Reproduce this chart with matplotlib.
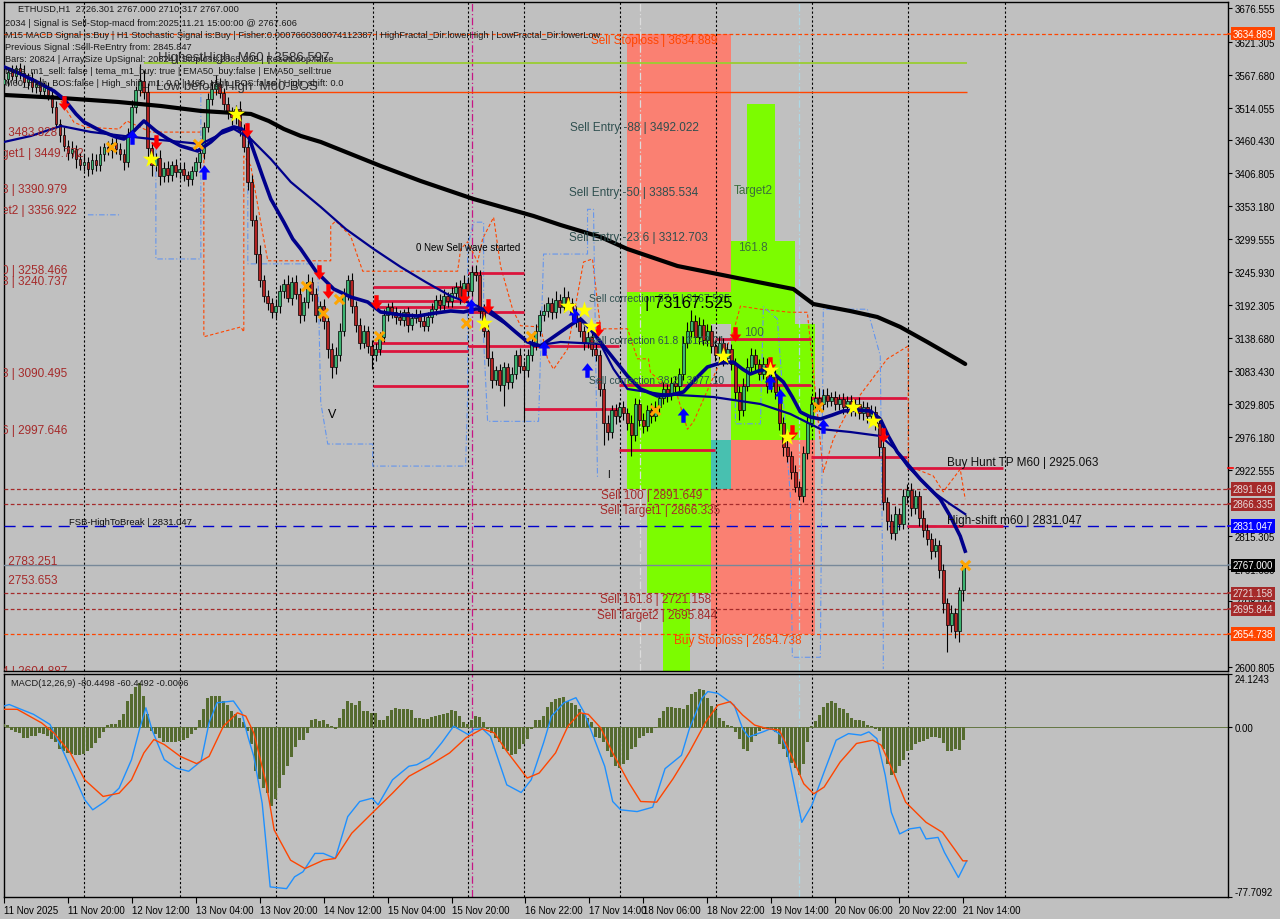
import matplotlib
matplotlib.use('Agg')
import matplotlib.pyplot as plt
import matplotlib.transforms as mtransforms
from matplotlib.patches import Rectangle
import numpy as np

plt.rcParams['font.family'] = ['Liberation Sans', 'DejaVu Sans']

BG = '#c0c0c0'
W, H = 1280, 920

# ---------------- data ----------------
# ETHUSD H1 closes, one per bar (bar 0 = 11 Nov 2025)
closes = [3560, 3572, 3566, 3578, 3570, 3556, 3562, 3548, 3552, 3541, 3547, 3535,
          3515, 3488, 3470, 3452,
          3440, 3446, 3430, 3421, 3426, 3414, 3429, 3420, 3438, 3450, 3444, 3456, 3447, 3438, 3426,
          3470, 3515, 3542, 3558, 3540,
          3448, 3420, 3432, 3402, 3416, 3404, 3420, 3409, 3414, 3404, 3398, 3410, 3425, 3440,
          3482, 3528, 3545, 3553, 3538, 3520, 3505, 3498, 3512, 3478,
          3450, 3392, 3330, 3275, 3232, 3206, 3195, 3180,
          3190, 3214, 3226, 3204, 3230, 3210, 3176, 3196, 3230, 3210, 3176,
          3190, 3165, 3120, 3090, 3110, 3150,
          3210, 3232, 3190, 3160, 3130, 3150, 3125,
          3110, 3120, 3140,
          3175, 3188, 3180, 3172, 3168, 3180, 3160, 3170, 3176, 3166, 3158, 3172,
          3185, 3200, 3192, 3206, 3198,
          3212, 3222, 3205, 3228, 3215,
          3245, 3240, 3182,
          3150, 3105, 3070, 3085, 3062, 3090, 3066,
          3080, 3110, 3092, 3085, 3110, 3130, 3150,
          3175, 3182, 3195, 3180, 3200, 3188, 3205, 3195,
          3178, 3165, 3150, 3130, 3140, 3120, 3110,
          3055,
          3000, 2985, 3020, 3010, 3025, 3015,
          3000, 2980, 3030, 3005, 2995, 3020, 3010, 3025,
          3040, 3055, 3045, 3065, 3060, 3080, 3130,
          3150, 3165, 3140, 3160, 3135, 3150,
          3125, 3110, 3130, 3105, 3120,
          3095, 3050, 3020, 3060,
          3090, 3110, 3095,
          3080, 3095, 3060, 3075, 3050,
          3000, 2960, 2945,
          2920, 2895, 2880,
          2950, 3000, 3030,
          3040, 3030, 3045, 3035, 3042, 3030, 3038, 3025, 3035, 3020,
          3030, 3015, 3025, 3010, 3018, 3000,
          2960, 2870, 2840, 2820,
          2850, 2835, 2880, 2890,
          2860, 2880, 2845, 2825,
          2810, 2790, 2800, 2760,
          2705, 2670, 2690, 2660, 2726.301,
          2767.0]
first_open = 3552

wick_up = [10, 8, 12, 6, 9, 14, 8, 10, 7, 12, 9, 8,
           6, 10, 8, 12,
           9, 14, 7, 10, 12, 8, 11, 9, 13, 7, 10, 8, 12, 9, 8,
           10, 12, 8, 27, 18,
           14, 10, 8, 12, 9, 11, 7, 10, 8, 12, 6, 9, 8, 10,
           8, 10, 12, 14, 9, 8, 11, 10, 7, 12,
           10, 15, 12, 9, 14, 8, 11, 9,
           12, 10, 9, 14, 8, 11, 10, 9, 12, 8, 10,
           9, 12, 8, 10, 14, 12,
           10, 8, 12, 9, 11, 10, 8,
           9, 10, 8,
           10, 7, 9, 8, 11, 6, 9, 8, 10, 7, 9, 8,
           10, 8, 9, 12, 7,
           9, 8, 10, 12, 9,
           10, 12, 9,
           11, 9, 12, 8, 10, 9, 8,
           10, 9, 12, 8, 10, 9, 11,
           9, 12, 10, 8, 14, 9, 17, 10,
           9, 12, 10, 8, 11, 9, 10,
           8,
           10, 12, 9, 11, 8, 10,
           9, 12, 10, 8, 11, 9, 12, 10,
           9, 12, 8, 10, 11, 9, 12,
           14, 18, 10, 12, 9, 11,
           10, 9, 12, 8, 10,
           9, 11, 10, 12,
           16, 12, 10,
           9, 12, 10, 8, 11,
           10, 9, 12,
           8, 10, 9,
           12, 10, 14,
           10, 16, 9, 12, 8, 10, 9, 11, 8, 10,
           9, 12, 10, 8, 11, 9,
           10, 12, 9, 11,
           14, 10, 12, 9,
           11, 10, 9, 12,
           10, 9, 11, 8,
           10, 9, 12, 8, 6,
           0]

wick_dn = [8, 10, 7, 12, 9, 8, 11, 9, 10, 8, 12, 9,
           10, 8, 12, 9,
           11, 8, 14, 9, 10, 12, 8, 10, 9, 11, 8, 12, 9, 10, 14,
           9, 8, 10, 9, 12,
           16, 18, 10, 14, 9, 12, 10, 8, 11, 9, 12, 10, 8, 9,
           10, 8, 9, 11, 8, 10, 9, 12, 10, 11,
           9, 12, 10, 14, 11, 9, 12, 10,
           9, 11, 10, 8, 12, 9, 14, 10, 9, 11, 12,
           10, 12, 14, 18, 10, 9,
           8, 10, 11, 12, 10, 9, 11,
           22, 10, 9,
           8, 10, 9, 11, 8, 10, 12, 9, 8, 10, 9, 8,
           10, 9, 8, 11, 9,
           10, 8, 12, 9, 10,
           8, 9, 12,
           10, 12, 14, 9, 11, 35, 12,
           10, 9, 11, 82, 10, 9, 11,
           8, 10, 9, 11, 10, 9, 8, 10,
           11, 9, 10, 12, 9, 11, 10,
           12,
           37, 14, 10, 12, 9, 11,
           12, 34, 10, 11, 12, 9, 10, 8,
           10, 9, 11, 8, 10, 9, 10,
           9, 11, 10, 12, 9, 10,
           11, 10, 9, 12, 10,
           9, 12, 16, 10,
           9, 10, 11,
           10, 9, 12, 10, 11,
           12, 14, 10,
           12, 9, 7,
           10, 9, 8,
           9, 11, 10, 9, 8, 10, 9, 11, 10, 9,
           10, 9, 11, 10, 9, 12,
           14, 12, 16, 10,
           12, 10, 9, 11,
           12, 10, 14, 12,
           10, 12, 9, 14,
           16, 45, 12, 12, 18,
           16.7]

# moving averages, key points (bar, price)
ma_black_bar = [0, 14.25, 28.5, 39.25, 49.25, 61.75, 66.25, 70, 74.25, 79.25, 86.75, 94.25,
                104.25, 117.5, 132.5, 139.25, 149.25, 156, 168.5, 183.5, 197.5, 202.5, 211.75,
                218.5, 224.25, 231, 239.25, 240.5]
ma_black_val = [3534.6, 3529.7, 3523.2, 3516.6, 3508.5, 3503.6, 3492.1, 3479.1, 3467.7, 3457.9,
                3438.3, 3418.7, 3394.2, 3364.8, 3337.1, 3322.4, 3302.8, 3283.2, 3255.5, 3235.9,
                3217.9, 3193.5, 3182.0, 3172.3, 3156.0, 3131.5, 3100.5, 3095.6]

ema_fast_bar = [0, 4.25, 9.25, 12.5, 15, 18, 20, 24.25, 28, 30, 32.5, 35, 38, 41, 44.25, 48.5,
                51.75, 54.75, 57.5, 59.5, 61.25, 63, 64.75, 66.75, 70, 72.25, 74.25, 78, 82.5,
                86.75, 91, 94.25, 99.25, 103.5, 108, 111.75, 115, 118, 121, 124.25, 128, 131,
                134.25, 136.75, 139.25, 141.75, 144.25, 146.75, 150, 153, 156, 159.25, 163.5,
                166.75, 170, 173, 176, 179.25, 182.5, 184.75, 186.75, 188.75, 191, 193, 195,
                197.25, 199.25, 201.75, 204.25, 207.25, 210, 213.5, 216.75, 219.25, 221.25,
                223.5, 226.25, 229.25, 231.75, 234.25, 236.75, 239.25, 240.5]
ema_fast_val = [3580.3, 3568.8, 3552.5, 3541.1, 3528.0, 3503.6, 3490.5, 3475.8, 3466.0, 3462.8,
                3475.8, 3492.2, 3475.8, 3462.8, 3451.3, 3443.2, 3457.9, 3475.8, 3482.4, 3479.1,
                3466.0, 3433.4, 3400.7, 3364.8, 3327.3, 3299.6, 3283.2, 3247.3, 3217.9, 3204.9,
                3196.7, 3180.4, 3175.6, 3173.9, 3178.8, 3182.1, 3180.4, 3185.3, 3185.3, 3169.0,
                3147.8, 3131.5, 3125.0, 3136.4, 3147.8, 3159.2, 3169.0, 3152.7, 3125.0, 3100.5,
                3076.0, 3054.8, 3043.4, 3045.0, 3049.9, 3071.1, 3090.7, 3097.2, 3098.8, 3087.4,
                3079.3, 3084.2, 3087.4, 3077.6, 3066.2, 3041.7, 3017.2, 3009.1, 3005.8, 3012.3,
                3018.9, 3020.5, 3018.9, 3005.8, 2978.1, 2952.0, 2930.8, 2907.7, 2891.4, 2875.1,
                2847.3, 2814.7, 2790.2]

ema_slow_bar = [0, 6.75, 14.25, 21.75, 30, 39.25, 49.25, 54.25, 57.5, 61.75, 66.75, 71.75,
                79.25, 85.5, 92.5, 99.25, 105.5, 111.75, 118.5, 125.5, 132.5, 139.25, 149.25,
                152.5, 156, 164.25, 177.5, 189.25, 196.75, 204.25, 211.75, 219.25, 223, 226,
                229.25, 232.5, 236.75, 240.5]
ema_slow_val = [3457.9, 3467.7, 3484.0, 3474.2, 3467.7, 3461.1, 3454.6, 3470.9, 3479.1, 3462.8,
                3430.1, 3392.6, 3351.8, 3315.9, 3283.2, 3253.9, 3229.4, 3206.4, 3190.2, 3160.8,
                3125.0, 3131.5, 3128.2, 3087.4, 3054.8, 3046.6, 3041.7, 3030.3, 3014.0, 2989.5,
                2984.6, 2978.1, 2956.9, 2929.1, 2907.7, 2886.5, 2866.9, 2850.6]

nan = np.nan
chan_hi_bar = [13.5, 17.5, 20.5, 28.75, 30.75, 36.75, 49.25, nan,
               50, 50, 59.25, 60, 60, 61.75, 64.75, 66, 81.75, 81.75, 83, 86.75, 89.75, 113.5,
               114.25, 116, 118.5, 119.75, 122.5, 124.25, 127.25, 129.25, 134.25, 136, 137.5,
               141, 145, 147.25, 149.25, 156, 158.5, 161.25, 161.75, 168.5, 171, 172.5, 182.5,
               184.25, 189.25, 196.75, 201, 205, 207.5, 211, 221, 226.25, 226.25, 232.5, 235,
               239.25, 240.5]
chan_hi_val = [3533, 3490, 3482, 3479, 3492, 3474, 3474, nan,
               3474, 3140, 3156, 3148, 3435, 3419, 3308, 3264, 3264, 3321, 3329, 3304, 3247, 3247,
               3283, 3295, 3262, 3300, 3335, 3255, 3185, 3158, 3156, 3104, 3087,
               3120, 3262, 3267, 3153, 3153, 3104, 3104, 3082, 3043, 2989, 3001, 3148,
               3190, 3185, 3180, 3180, 2919, 2973, 3017, 3104, 3125, 2929, 2913, 2887,
               2924, 2875]

chan_lo_bar = [21, 29.25, nan, 38, 38, 49.25, 49.25, nan,
               61, 61, 78.5, 79.25, 81, 92.25, 92.25, 115.5, 116, 116, 117.5, 120, 120, 121,
               133.75, 135, 146, 146, 147.5, 148.5, nan,
               183, 183, 189.25, 190, 193.5, 196.75, 197.25, 204.25, 205, 216, 219.25, 220, 220]
chan_lo_val = [3339, 3339, nan, 3446, 3267, 3267, 3536, nan,
               3490, 3259, 3259, 3033, 2965, 2965, 2929, 2929, 3043, 3288, 3327, 3327, 3136, 3002,
               3002, 3275, 3275, 3348, 3348, 2908, nan,
               3033, 2998, 2998, 3189, 3169, 2880, 2617, 2617, 3185, 3185, 3109, 2658, 2598]

# signal markers (bar, price)
down_bar = [15, 38, 60.75, 78.75, 81, 93, 115, 121, 148.5, 183, 191.75, 197.25, 220]
down_val = [3522, 3458, 3478, 3246, 3214, 3197, 3206, 3191, 3153, 3144, 3095, 2985, 2979]
up_bar = [32, 50, 116.75, 135, 142.5, 145.75, 170, 191.75, 194.25, 205]
up_val = [3466, 3409, 3191, 3121, 3175, 3085, 3012, 3067, 3043, 2994]
star_bar = [36.75, 58, 120, 141, 145, 146.75, 180, 191.75, 196, 212.5, 217.5]
star_val = [3430, 3504, 3162, 3191, 3183, 3157, 3109, 3085, 2977, 3026, 3003]
cross_bar = [26.75, 48.5, 75.5, 79.75, 83.75, 93.75, 115.5, 131.75, 163, 203.75, 240.5]
cross_val = [3450, 3455, 3223, 3178, 3202, 3142, 3162, 3142, 3020, 3026, 2767]

# trade zones: bar from, bar to, price low, price high, colour
zones = [(156, 182, 3213.7, 3634.889, 'salmon'),
         (156, 177, 2891.649, 3213.7, 'green'),
         (177, 182, 3161.5, 3213.7, 'green'),
         (177, 182, 2891.649, 2970.8, 'teal'),
         (161, 177, 2721.158, 2891.649, 'green'),
         (165, 171.75, 2590, 2721.158, 'green'),
         (182, 198, 2970.8, 3296.8, 'green'),
         (186, 193, 3296.8, 3520.1, 'green'),
         (198, 203, 2970.8, 3161.5, 'green'),
         (182, 203, 2654.738, 2970.8, 'salmon'),
         (177, 182, 2654.738, 2891.649, 'salmon')]

# short red level segments: bar from, bar to, price
segments = [(92.25, 116, 3221.8), (92.25, 116, 3199.0), (92.25, 116, 3189.2),
            (92.25, 116, 3130.5), (92.25, 116, 3117.5), (92.25, 116, 3060.4),
            (116, 130, 3244.6), (116, 130, 3181.0), (116, 154, 3125.0),
            (130, 154, 3022.9), (154, 178, 2954.5), (178, 202, 3137.0),
            (154, 202, 3062.0), (202, 226, 3040.8), (202, 226, 2943.0),
            (226, 250, 2925.063), (226, 250, 2831.047)]

# full width levels
sell_stop = 3634.889
sell_100 = 2891.649
sell_t1 = 2866.335
buy_hunt = 2925.063
fsb_high = 2831.047
bid = 2767.0
sell_1618 = 2721.158
sell_t2 = 2695.844
buy_stop = 2654.738
highest_high = 3586.597
low_before_high = 3539.5

# MACD panel
macd_hist = [1.5, 1.0, -1.5, -2.5, -3, -5, -5, -4, -4, -3,
             -3.5, -4, -5.5, -7, -10, -11, -12, -12.5, -13, -13,
             -12.5, -11, -9.5, -7.5, -5, -2.5, 1, 1.5, 1.5, 3,
             6, 12, 15, 18, 20, 14, 6, -2, -3.5, -5,
             -7, -7, -7, -7, -6.5, -6, -5, -3.5, -1.5, 3,
             8, 13, 14, 14, 14, 12, 10, 7, 6, 4,
             2, -2, -8, -20, -24, -28, -30, -36, -33, -28,
             -22, -18, -14, -9, -6, -6, -3, 3, 3.5, 2.5,
             3, 1.5, 0.5, -1, 4, 8, 12, 11, 10, 12,
             7, 7, 6.5, 6.5, 3, 3, 5, 7.5, 8.5, 8,
             8, 8, 7.5, 4, 4, 3.5, 3.5, 4.5, 5, 5.5,
             6, 6.5, 7.5, 7, 5, 2, 1.5, 3, 5, 4.5,
             2, -1, -3, -5, -7, -10, -11, -13, -12.5, -10,
             -8, -5.5, -1, 3, 3, 5, 9, 11.5, 12.5, 13,
             13.5, 12, 11, 10, 8, 6, 4, 2, -4.5, -5,
             -7, -11, -14, -18, -19, -17, -15, -10, -9,
             -5, -4, -3, -3, -0.5,
             4, 7, 9, 9, 8.5, 8.5, 8, 10, 15, 16, 17.5, 17, 13, 9.5, 7.5, 4, 2.5, 1, 0.5,
             -2.5, -5.5, -10, -11, -7, -4, -2, -1, -1, -1.5, -2.5, -8, -10, -14, -16.5, -19, -22, -17, -7,
             0.5,
             2.5, 5.5, 9, 11, 12, 11, 8.5, 8, 6.5, 4, 3, 3, 2.5, 1,
             0.5, -1,
             -2, -10, -17, -22, -21, -18, -15, -11, -10.5, -8, -7, -6.5, -5.5, -4.5, -4.5, -5,
             -7.5, -11, -11, -10, -10.5, -6]

macd_main_bar = [0, 1.3, 3.3, 7.4, 11.5, 14.6, 17.6, 20.2, 22.2, 25.3, 28.8, 31.9, 33.9, 35.5,
                 37, 40.1, 43.1, 46.2, 49.3, 51.3, 53.3, 57.4, 59.5, 61, 62.5, 64.6, 66.6, 70.7,
                 72.7, 74.8, 77.8, 79.9, 82.9, 86, 89, 92.1, 93.6, 97.2, 101.3, 103.3, 106.4,
                 109.5, 112.5, 116.1, 117.6, 119.7, 121.7, 125.8, 129.4, 131.9, 135, 137, 140.1,
                 143.1, 145.2, 150.3, 152.3, 154.3, 158.4, 162.3, 165.4, 169.5, 171.5, 174.6,
                 176.1, 178.6, 182.7, 184.8, 186.3, 189.9, 191.9, 194.5, 196, 199.6, 202.1,
                 205.2, 208.2, 211.3, 214.4, 216.4, 218.4, 220.5, 222, 224.1, 226.6, 229.2,
                 230.7, 233.7, 235.3, 238.8, 240.9]
macd_main_val = [9.5, 10.2, 8.7, 5.7, 1.1, -10.4, -22.6, -33.3, -37.9, -34.1, -28.0, -15.0,
                 -1.2, 8.7, -1.2, -15, -18.8, -20.3, -15.7, 1.8, 11, 11.8, 6.4, -4.3, -13.5,
                 -34.9, -73.1, -73.9, -68.5, -66.2, -57.8, -57.8, -60.1, -41, -34.1, -32.6,
                 -35.6, -24.2, -18, -17.3, -14.2, -7.3, 0.3, -3.5, -1.2, -0.9, -4.3, -26.5,
                 -30, -24.2, -7.3, 4.9, 11, 13.3, 6.4, -18, -34.1, -37.9, -38.7, -36.7, -19.1,
                 -13, -0.8, 13, 16.1, 15.3, 9.9, -0.8, -4.6, -2.3, -0.8, -3.8, -11.5, -43.6,
                 -35.9, -20.6, -6.1, -3.1, -3.8, -2.3, -5.4, -22.2, -39, -48.9, -46.6, -45.9,
                 -51.2, -50.5, -57.3, -68.8, -61.2]

macd_sig_bar = [0, 3.3, 9.4, 12.5, 16.6, 20.2, 24.8, 28.8, 31.9, 35, 37.5, 40.1, 44.1, 48.2,
                51.3, 54.9, 58.4, 60.5, 62.5, 65.6, 67.6, 71.7, 75.3, 79.9, 82.9, 87, 92.1,
                97.2, 101.3, 107.4, 111.5, 115.6, 119.7, 122.7, 125.8, 130.9, 133.9, 138,
                141.1, 144.1, 146.2, 149.3, 152.3, 156.4, 159.3, 163.3, 167.4, 171.5, 175.6,
                178.6, 181.7, 184.8, 187.8, 190.9, 194, 197, 200.1, 202.6, 205.2, 209.2,
                213.3, 217.4, 219.5, 222.5, 225.6, 230.7, 234.8, 237.8, 239.9, 240.9]
macd_sig_val = [8, 8, 1.8, -2.8, -11.9, -24.2, -31.8, -30.3, -24.2, -11.9, -5.8, -8.1, -13.5,
                -16.8, -13.5, 0.3, 6.4, 4.9, -2.8, -25.7, -47.1, -60.9, -64.7, -60.9, -60.1,
                -48.6, -39.4, -30.3, -22.6, -16.5, -11.9, -5, -0.9, -2.8, -11.2, -23.4, -21.1,
                -11.9, 0.3, 6.4, 5.7, -0.5, -11.9, -25.7, -34.1, -34.4, -23.7, -11.5, 2.3, 9.9,
                11.5, 5.4, 0.8, -0.8, -1.5, -13, -26, -30.6, -27.5, -16.1, -7.6, -6.1, -8.4,
                -20.6, -34.4, -43.6, -48.2, -55.8, -61.2, -61.2]

date_bars = [0, 16, 32, 48, 64, 80, 96, 112, 130.25, 146.25, 160, 176, 192, 208, 224, 240]
date_labels = ['11 Nov 2025', '11 Nov 20:00', '12 Nov 12:00', '13 Nov 04:00', '13 Nov 20:00',
               '14 Nov 12:00', '15 Nov 04:00', '15 Nov 20:00', '16 Nov 22:00', '17 Nov 14:00',
               '18 Nov 06:00', '18 Nov 22:00', '19 Nov 14:00', '20 Nov 06:00', '20 Nov 22:00',
               '21 Nov 14:00']
price_ticks = [3676.555, 3621.305, 3567.680, 3514.055, 3460.430, 3406.805, 3353.180, 3299.555,
               3245.930, 3192.305, 3138.680, 3083.430, 3029.805, 2976.180, 2922.555, 2868.930,
               2815.305, 2761.680, 2708.055, 2654.430, 2600.805]

# ---------------- figure ----------------
fig = plt.figure(figsize=(12.8, 9.2), dpi=100)
fig.patch.set_facecolor(BG)


def rect(x0, y0, x1, y1):
    return [x0 / W, 1 - y1 / H, (x1 - x0) / W, (y1 - y0) / H]


ax = fig.add_axes(rect(4, 3, 1228, 672))
axm = fig.add_axes(rect(4, 675, 1228, 898), sharex=ax)
for a in (ax, axm):
    a.set_facecolor(BG)
    for s in a.spines.values():
        s.set_color('black')
        s.set_linewidth(1)

ax.set_xlim(0.25, 306.25)
ax.set_ylim(2594.6, 3686.3)
axm.set_ylim(-77.7092, 24.1243)

zone_col = {'salmon': '#fa8072', 'green': '#7cfc00', 'teal': '#48c0b0'}
for b0, b1, p0, p1, c in zones:
    ax.add_patch(Rectangle((b0, p0), b1 - b0, p1 - p0, facecolor=zone_col[c],
                           edgecolor='none', zorder=1))

# day grid
grid_bars = [20, 44, 68, 92.25, 116, 130, 154.25, 178.25, 202.25, 226.25, 250.5]
for g in grid_bars:
    ax.axvline(g, color='black', ls=(0, (2, 2)), lw=0.8, zorder=2)
    axm.axvline(g, color='black', ls=(0, (2, 2)), lw=0.8, zorder=2)
for a in (ax, axm):
    a.axvline(117, color='#c71585', ls=(0, (6, 2, 1, 2)), lw=0.9, zorder=2)
    a.axvline(199, color='#add8e6', ls=(0, (6, 2, 1, 2)), lw=0.9, zorder=2)
ax.axvline(159.25, color='#dcdcdc', ls=(0, (6, 2, 1, 2)), lw=0.9, zorder=2)

# full width levels
ax.axhline(sell_stop, color='#ff4500', ls=(0, (3, 2)), lw=0.9, zorder=3)
for p in (sell_100, sell_t1, sell_1618, sell_t2):
    ax.axhline(p, color='#a52a2a', ls=(0, (3, 2)), lw=0.9, zorder=3)
ax.axhline(buy_stop, color='#ff4500', ls=(0, (3, 2)), lw=0.9, zorder=3)
ax.axhline(fsb_high, color='#0000cd', ls=(0, (8, 5)), lw=1.0, zorder=3)
ax.axhline(bid, color='#778899', lw=1.0, zorder=3)
ax.hlines(highest_high, 35, 241, color='#9acd32', lw=1.3, zorder=3)
ax.hlines(low_before_high, 34, 241, color='#ff4500', lw=1.0, zorder=3)

# envelope lines
ax.plot(chan_hi_bar, chan_hi_val, color='#ff4500', ls=(0, (3, 2)), lw=0.8, zorder=3)
ax.plot(chan_lo_bar, chan_lo_val, color='#6495ed', ls=(0, (5, 2, 1, 2)), lw=0.8, zorder=3)

# red level segments
for b0, b1, p in segments:
    ax.hlines(p, b0, b1, color='#dc143c', lw=2.0, zorder=4)

# candles
idx = np.arange(len(closes))
c = np.array(closes, float)
o = np.concatenate([[first_open], c[:-1]])
hi = np.maximum(o, c) + np.array(wick_up, float)
lo = np.minimum(o, c) - np.array(wick_dn, float)
body_lo = np.minimum(o, c)
body_h = np.maximum(np.abs(c - o), 0.8)
cols = np.where(c >= o, '#3cb371', '#b22222')
ax.vlines(idx, lo, hi, color='black', lw=0.8, zorder=5)
ax.bar(idx, body_h, bottom=body_lo, width=0.7, color=cols, edgecolor='black',
       linewidth=0.5, zorder=6)

# moving averages
ax.plot(ma_black_bar, ma_black_val, color='black', lw=3.0, zorder=7, solid_capstyle='round',
        solid_joinstyle='round')
ax.plot(ema_slow_bar, ema_slow_val, color='#00008b', lw=1.6, zorder=7, solid_joinstyle='round')
ax.plot(ema_fast_bar, ema_fast_val, color='#00008b', lw=2.6, zorder=7, solid_joinstyle='round')

# markers
dn_arrow = [(0, -1), (-0.8, 0), (-0.3, 0), (-0.3, 1), (0.3, 1), (0.3, 0), (0.8, 0), (0, -1)]
up_arrow = [(x, -y) for x, y in dn_arrow]
ax.scatter(down_bar, down_val, marker=dn_arrow, s=110, color='#ff0000', zorder=8, lw=0)
ax.scatter(up_bar, up_val, marker=up_arrow, s=110, color='#0000ff', zorder=8, lw=0)
ax.scatter(star_bar, star_val, marker='*', s=170, color='#ffff00', zorder=8, lw=0)
ax.scatter(cross_bar, cross_val, marker='x', s=45, color='#ffa500', zorder=8, linewidths=2.2)

# labels on the chart
SLATE = '#2f4f4f'
BROWN = '#a52a2a'
OR = '#ff4500'
lab = [(146.75, sell_stop, 'Sell Stoploss | 3634.889', OR, 8.5, 'top'),
       (141.5, 3492.022, 'Sell Entry -88 | 3492.022', SLATE, 8.5, 'top'),
       (141.25, 3385.534, 'Sell Entry -50 | 3385.534', SLATE, 8.5, 'top'),
       (141.25, 3312.703, 'Sell Entry -23.6 | 3312.703', SLATE, 8.5, 'top'),
       (146.25, 3211.4, 'Sell correction 87.5 | 3167.525', SLATE, 7.5, 'top'),
       (146.25, 3142.21, 'Sell correction 61.8 | 3142.21', SLATE, 7.5, 'top'),
       (146.25, 3077.10, 'Sell correction 38.2 | 3077.10', SLATE, 7.5, 'top'),
       (149.25, sell_100, 'Sell 100 | 2891.649', BROWN, 8.5, 'top'),
       (149.0, sell_t1, 'Sell Target1 | 2866.335', BROWN, 8.5, 'top'),
       (149.0, sell_1618, 'Sell 161.8 | 2721.158', BROWN, 8.5, 'top'),
       (148.25, sell_t2, 'Sell Target2 | 2695.844', BROWN, 8.5, 'top'),
       (167.75, buy_stop, 'Buy Stoploss | 2654.738', OR, 8.5, 'top'),
       (182.5, 3389.3, 'Target2', '#3b6e3b', 8.5, 'top'),
       (183.75, 3296.8, '161.8', '#3b6e3b', 8.5, 'top'),
       (185.25, 3157.6, '100', '#3b6e3b', 8.5, 'top'),
       (38.5, highest_high, 'HighestHigh  M60 | 3586.597', '#303030', 9.5, 'bottom'),
       (38.0, low_before_high, 'Low before High  M60-BOS', '#303030', 9.5, 'bottom'),
       (236.0, buy_hunt, 'Buy Hunt TP M60 | 2925.063', '#101010', 8.5, 'bottom'),
       (236.0, fsb_high, 'High-shift m60 | 2831.047', '#101010', 8.5, 'bottom'),
       (16.25, fsb_high, 'FSB-HighToBreak | 2831.047', '#101010', 6.8, 'bottom'),
       (160.5, 3208.0, '| 73167.525', 'black', 12, 'top')]
for b, p, s, col, fs, va in lab:
    ax.text(b, p, s, color=col, fontsize=fs, va=va, ha='left', zorder=9, clip_on=True)

ax.text(103, 3286.5, '0 New Sell wave started', color='black', fontsize=7, va='center',
        zorder=9)
ax.text(81, 3014, 'V', color='black', fontsize=9, va='center', zorder=9)
ax.text(151, 2916, 'I', color='black', fontsize=7, va='center', zorder=9)

left_labels = [('| 3483.828', 3483.828), ('get1 | 3449.772', 3449.772),
               ('8 | 3390.979', 3390.979), ('et2 | 3356.922', 3356.922),
               ('0 | 3258.466', 3258.466), ('8 | 3240.737', 3240.737),
               ('8 | 3090.495', 3090.495), ('6 | 2997.646', 2997.646),
               ('| 2783.251', 2783.251), ('| 2753.653', 2753.653),
               ('4 | 2604.887', 2604.887)]
for s, p in left_labels:
    ax.text(-0.6, p, s, color=BROWN, fontsize=8.5, va='top', ha='left', zorder=9,
            clip_on=True)

# info block, top left
info = [(18, 9, 'ETHUSD,H1  2726.301 2767.000 2710.317 2767.000'),
        (5, 23, '2034 | Signal is Sell-Stop-macd from:2025.11.21 15:00:00 @ 2767.606'),
        (5, 35, 'M15 MACD Signal is:Buy | H1 Stochastic Signal is:Buy | '
                'Fisher:0.0007660300074112387 | HighFractal_Dir:lowerHigh | '
                'LowFractal_Dir:lowerLow'),
        (5, 47, 'Previous Signal :Sell-ReEntry from: 2845.847'),
        (5, 60, 'Bars: 20824 | ArraySize UpSignal: 20824 | Stoploss:2868.205 | '
                'ResetLoop:false'),
        (5, 72, 'tema_m1_sell: false | tema_m1_buy: true | EMA50_buy:false | EMA50_sell:true'),
        (5, 84, 'M60_High_BOS:false | High_shift_m1: 0.0 | M60_High_BOS:false | '
                'High_shift: 0.0')]
for x, y, s in info:
    fig.text(x / W, 1 - y / H, s, fontsize=6.7, color='#1a1a1a', va='center', ha='left',
             zorder=10)

# right price axis
ax.yaxis.tick_right()
ax.set_yticks(price_ticks)
ax.set_yticklabels(['%.3f' % v for v in price_ticks])
ax.tick_params(axis='y', direction='out', length=3, width=0.8, labelsize=7, pad=2,
               colors='black')
ax.tick_params(axis='x', which='both', bottom=False, labelbottom=False)

tr = mtransforms.blended_transform_factory(ax.transAxes, ax.transData)
# small coloured marks on the price scale for the object levels
for p, col in [(buy_hunt, '#ff0000'), (sell_100, '#a52a2a'), (sell_t1, '#a52a2a'),
               (fsb_high, '#0000ff'), (bid, '#778899'), (sell_1618, '#a52a2a'),
               (sell_t2, '#a52a2a'), (buy_stop, '#ff4500'), (sell_stop, '#ff4500')]:
    ax.plot([1.0, 1.004], [p, p], transform=tr, color=col, lw=1.2, clip_on=False, zorder=11)

boxes = [(sell_stop, '#ff4500', 'white'), (sell_100, '#a52a2a', '#e8dada'),
         (sell_t1, '#a52a2a', '#e8dada'), (fsb_high, '#0000ff', 'white'),
         (bid, '#000000', 'white'), (sell_1618, '#a52a2a', '#e8dada'),
         (sell_t2, '#a52a2a', '#e8dada'), (buy_stop, '#ff4500', 'white')]
for p, fc, tc in boxes:
    ax.text(1.0 + 5 / 1224, p, '%.3f' % p, transform=tr, fontsize=7, color=tc,
            va='center', ha='left', zorder=12, clip_on=False,
            bbox=dict(boxstyle='square,pad=0.18', fc=fc, ec='none'))

# MACD panel
axm.bar(idx, macd_hist, width=0.75, color='#556b2f', zorder=3)
axm.axhline(0, color='#556b2f', lw=0.6, zorder=2)
axm.plot(macd_main_bar, macd_main_val, color='#1e90ff', lw=1.0, zorder=4)
axm.plot(macd_sig_bar, macd_sig_val, color='#ff4500', lw=1.0, zorder=4)
axm.text(7 / 1224, 1 - 8 / 223, 'MACD(12,26,9) -80.4498 -60.4492 -0.0006',
         transform=axm.transAxes, fontsize=6.7, va='center', ha='left', color='#1a1a1a')

axm.yaxis.tick_right()
axm.set_yticks([24.1243, 0, -77.7092])
axm.set_yticklabels(['24.1243', '0.00', '-77.7092'])
axm.tick_params(axis='y', direction='out', length=3, width=0.8, labelsize=7, pad=2)
ylabs = axm.get_yticklabels()
ylabs[0].set_va('top')
ylabs[2].set_va('bottom')

axm.set_xticks(date_bars)
axm.set_xticklabels(date_labels)
axm.tick_params(axis='x', direction='out', length=4, width=0.8, labelsize=7, pad=2)
for t in axm.get_xticklabels():
    t.set_ha('left')

fig.savefig('out.png', dpi=100, facecolor=BG)
